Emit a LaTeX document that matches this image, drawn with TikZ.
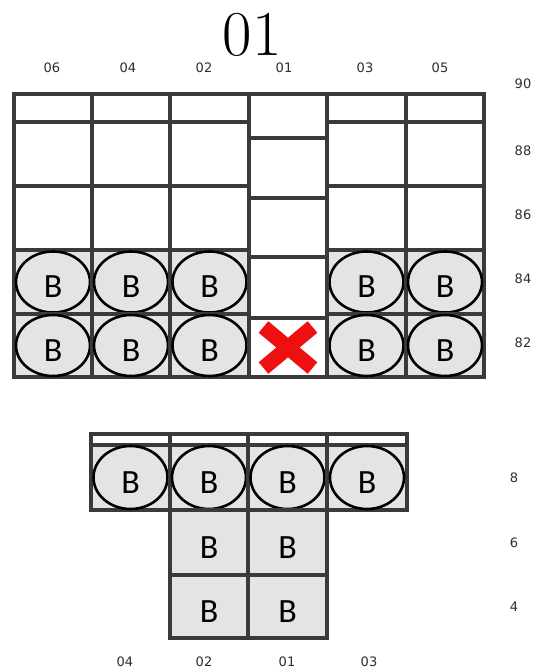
\documentclass[tikz,border=0pt]{standalone}
\usepackage{fontspec}
\newfontfamily\bfont{Carlito}
\newfontfamily\lfont{DejaVu Sans}
\usetikzlibrary{shapes.geometric,fit}
\definecolor{gridc}{RGB}{58,58,58}
\definecolor{cellg}{RGB}{228,228,228}
\definecolor{labc}{RGB}{45,45,45}
\definecolor{xred}{RGB}{238,16,16}
\tikzset{
  gridcell/.style={draw=gridc, line width=3.2pt, inner sep=0pt, rectangle, fill=white},
  shadedcell/.style={gridcell, fill=cellg},
  oval/.style={ellipse, draw=black, line width=2.6pt, fill=cellg, minimum width=74pt, minimum height=61pt, inner sep=0pt},
  btext/.style={font=\bfont\fontsize{34}{34}\selectfont, inner sep=0pt},
  lab/.style={font=\lfont\fontsize{13}{13}\selectfont, text=labc, inner sep=0pt},
}
\begin{document}
\begin{tikzpicture}[x=1pt,y=-1pt]
\useasboundingbox (0,0) rectangle (536,671);
% title
\node[font=\fontsize{64}{64}\selectfont, inner sep=0pt, text depth=0pt] (title) at (252,34) {01};
% upper grid, side columns
\foreach \i/\xa/\xb in {1/14/92, 2/92/170, 3/170/249, 5/327/406, 6/406/484}{
  \foreach \j/\ya/\yb in {1/94/122, 2/122/186, 3/186/250}{
    \node[gridcell, fit={(\xa,\ya) (\xb,\yb)}] (u-\i-\j) {};
  }
  \foreach \j/\ya/\yb in {4/250/314, 5/314/377}{
    \node[shadedcell, fit={(\xa,\ya) (\xb,\yb)}] (u-\i-\j) {};
    \node[oval] (o-\i-\j) at (u-\i-\j.center) {};
    \node[btext] (b-\i-\j) at ([yshift=-5pt]u-\i-\j.center) {B};
  }
}
% upper grid, middle column
\foreach \j/\ya/\yb in {1/94/138, 2/138/198, 3/198/257, 4/257/318, 5/318/377}{
  \node[gridcell, fit={(249,\ya) (327,\yb)}] (u-4-\j) {};
}
% red cross
\path (u-4-5.center) ++(-24.5,-20.5) coordinate (xa1) (u-4-5.center) ++(24.5,20.5) coordinate (xa2)
      (u-4-5.center) ++(-24.5,20.5) coordinate (xb1) (u-4-5.center) ++(24.5,-20.5) coordinate (xb2);
\draw[xred, line width=15pt] (xa1) -- (xa2) (xb1) -- (xb2);
% top labels
\foreach \t/\x in {06/52, 04/128, 02/204, 01/284, 03/365, 05/440}{
  \node[lab] (top-\t) at (\x,68) {\t};
}
% right labels
\foreach \t/\y in {90/84, 88/151, 86/215, 84/279, 82/343}{
  \node[lab] (r-\t) at (523,\y) {\t};
}
% lower grid
\foreach \i/\xa/\xb in {1/91/170, 2/170/248, 3/248/327, 4/327/407}{
  \node[gridcell, fit={(\xa,434) (\xb,445)}] (s-\i) {};
  \node[shadedcell, fit={(\xa,445) (\xb,510)}] (l-\i) {};
  \node[oval, minimum height=63pt] (lo-\i) at (l-\i.center) {};
  \node[btext] (lb-\i) at ([yshift=-5pt]l-\i.center) {B};
}
\foreach \i/\xa/\xb in {2/170/248, 3/248/327}{
  \foreach \j/\ya/\yb in {1/510/575, 2/575/638}{
    \node[shadedcell, fit={(\xa,\ya) (\xb,\yb)}] (d-\i-\j) {};
    \node[btext] (db-\i-\j) at ([yshift=-5pt]d-\i-\j.center) {B};
  }
}
% lower labels
\foreach \t/\y in {8/478, 6/543, 4/607}{
  \node[lab] (lr-\t) at (514,\y) {\t};
}
\foreach \t/\x in {04/125, 02/204, 01/287, 03/369}{
  \node[lab] (bot-\t) at (\x,662) {\t};
}
\end{tikzpicture}
\end{document}
